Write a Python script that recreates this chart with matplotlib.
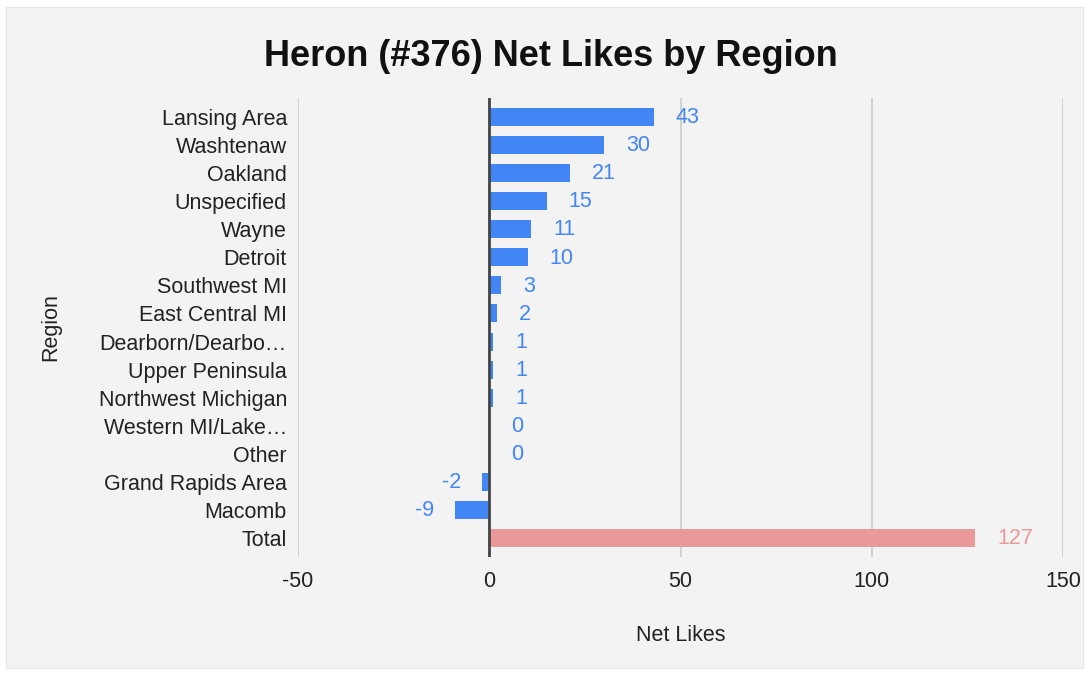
import matplotlib.pyplot as plt
from matplotlib.patches import Rectangle

plt.rcParams['font.family'] = ['Liberation Sans', 'DejaVu Sans']
plt.rcParams['axes.unicode_minus'] = False

regions = ["Lansing Area", "Washtenaw", "Oakland", "Unspecified", "Wayne", "Detroit",
           "Southwest MI", "East Central MI", "Dearborn/Dearbo\u2026", "Upper Peninsula",
           "Northwest Michigan", "Western MI/Lake\u2026", "Other", "Grand Rapids Area",
           "Macomb", "Total"]
net_likes = [43, 30, 21, 15, 11, 10, 3, 2, 1, 1, 1, 0, 0, -2, -9, 127]
xticks = [-50, 0, 50, 100, 150]

blue = "#4285f4"
pink = "#ea9999"
colors = [pink if r == "Total" else blue for r in regions]

fig = plt.figure(figsize=(10.89, 6.75), dpi=100)
fig.patch.set_facecolor("white")
# grey panel behind the chart
fig.patches.append(Rectangle((6/1089, 7/675), 1077/1089, 661/675,
                             transform=fig.transFigure, facecolor="#f3f3f3",
                             edgecolor="#e6e6e6", lw=0.8, zorder=-1))

ax = fig.add_axes([298/1089, 118/675, 765/1089, 459/675])
ax.set_facecolor("none")

ypos = list(range(len(regions)))
ax.barh(ypos, net_likes, height=0.64, color=colors, zorder=3)

fs = 15.5
for y, v, c in zip(ypos, net_likes, colors):
    if v >= 0:
        ax.annotate(str(v), (v, y), xytext=(16, -0.5), textcoords="offset points",
                    ha="left", va="center", color=c, fontsize=fs)
    else:
        ax.annotate(str(v), (v, y), xytext=(-15, -0.5), textcoords="offset points",
                    ha="right", va="center", color=c, fontsize=fs)

ax.set_xlim(-50, 150)
ax.set_ylim(len(regions) - 0.32, -0.68)
ax.set_xticks(xticks)
ax.set_yticks(ypos)
ax.set_yticklabels(regions)
ax.tick_params(axis="both", length=0, labelsize=fs, colors="#222222")
ax.tick_params(axis="y", pad=8)
ax.tick_params(axis="x", pad=10)

for s in ax.spines.values():
    s.set_visible(False)
ax.grid(axis="x", color="#cccccc", lw=1.2, zorder=0)
ax.axvline(0, color="#444444", lw=2, zorder=4)

ax.set_xlabel("Net Likes", fontsize=fs, labelpad=24, color="#222222")
ax.set_ylabel("Region", fontsize=fs, labelpad=27, color="#222222")

fig.text(551/1089, 1 - 57/675, "Heron (#376) Net Likes by Region", ha="center",
         va="center", fontsize=26, fontweight="bold", color="#111111")

fig.savefig("out.png", dpi=100)
